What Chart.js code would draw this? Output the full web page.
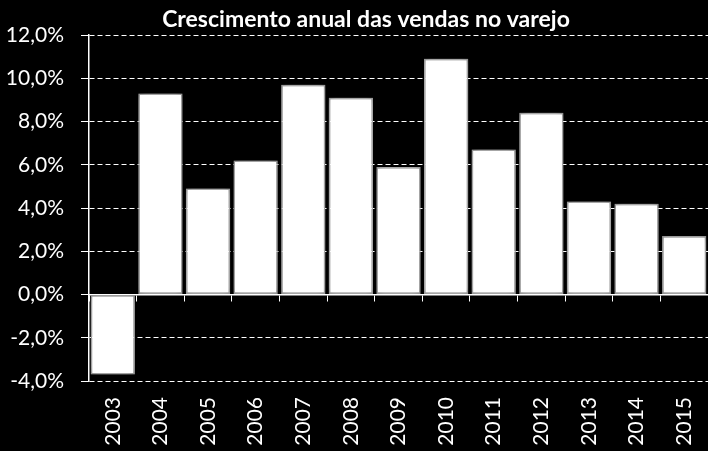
<!DOCTYPE html>
<html><head><meta charset="utf-8">
<script src="https://cdn.jsdelivr.net/npm/chart.js@4.4.0/dist/chart.umd.min.js"></script>
<style>html,body{margin:0;padding:0;background:#000;}</style>
</head><body>
<canvas id="c" width="708" height="451" style="display:block;width:708px;height:451px"></canvas>
<script>
const categories = ['2003','2004','2005','2006','2007','2008','2009','2010','2011','2012','2013','2014','2015'];
const growth = [-3.7, 9.3, 4.9, 6.2, 9.7, 9.1, 5.9, 10.9, 6.7, 8.4, 4.3, 4.2, 2.7];
const yTicks = [-4, -2, 0, 2, 4, 6, 8, 10, 12];
const titleText = 'Crescimento anual das vendas no varejo';

const FONT = 'Lato, "Open Sans", sans-serif';

const glow = {
  id: 'glow',
  beforeDatasetsDraw(chart) {
    const ctx = chart.ctx;
    ctx.save();
    ctx.shadowColor = 'rgba(255,255,255,0.55)';
    ctx.shadowBlur = 7;
  },
  afterDatasetsDraw(chart) { chart.ctx.restore(); }
};

const titlePlugin = {
  id: 'customTitle',
  afterDraw(chart) {
    const ctx = chart.ctx;
    ctx.save();
    ctx.fillStyle = '#fff';
    ctx.font = 'bold 23px ' + FONT;
    ctx.textAlign = 'center';
    ctx.textBaseline = 'alphabetic';
    ctx.fillText(titleText, 366, 27);
    ctx.restore();
  }
};

function noHPad(scale) { scale.paddingLeft = 0; scale.paddingRight = 0; }

new Chart(document.getElementById('c'), {
  type: 'bar',
  data: {
    labels: categories,
    datasets: [{
      data: growth,
      backgroundColor: '#ffffff',
      borderColor: '#8a8a8a',
      borderWidth: 1.5,
      borderSkipped: false,
      barPercentage: 0.93,
      categoryPercentage: 1.0,
      xAxisID: 'x',
      yAxisID: 'y'
    }]
  },
  options: {
    responsive: false,
    animation: false,
    devicePixelRatio: 1,
    layout: { padding: { top: 35, left: 0, right: 0, bottom: 0 } },
    plugins: { legend: { display: false }, title: { display: false }, tooltip: { enabled: false } },
    scales: {
      x: {
        type: 'category',
        position: { y: 0 },
        offset: true,
        afterFit: noHPad,
        grid: { display: true, drawOnChartArea: false, drawTicks: true, tickLength: 6, tickColor: '#fff', tickWidth: 1, offset: true },
        border: { display: true, color: '#fff', width: 1.5 },
        ticks: { display: false }
      },
      xl: {
        type: 'category',
        labels: categories,
        position: 'bottom',
        offset: true,
        afterFit(scale) { noHPad(scale); scale.height = 70; },
        grid: { display: false, drawTicks: false },
        border: { display: false },
        ticks: { color: '#fff', font: { family: FONT, size: 21 }, maxRotation: 90, minRotation: 90, padding: 16, autoSkip: false }
      },
      y: {
        min: -4, max: 12,
        afterBuildTicks(scale) { scale.ticks = yTicks.map(v => ({ value: v })); },
        afterFit(scale) { scale.width = 89; scale.paddingTop = 0; scale.paddingBottom = 0; },
        grid: { color: '#fff', lineWidth: 1, tickLength: 8, tickColor: '#fff', tickWidth: 1 },
        border: { display: true, color: '#fff', width: 1.5, dash: [5, 3] },
        ticks: {
          color: '#fff', font: { family: FONT, size: 21 }, padding: 17,
          callback: v => v.toFixed(1).replace('.', ',') + '%'
        }
      }
    }
  },
  plugins: [glow, titlePlugin]
});
</script>
</body></html>
